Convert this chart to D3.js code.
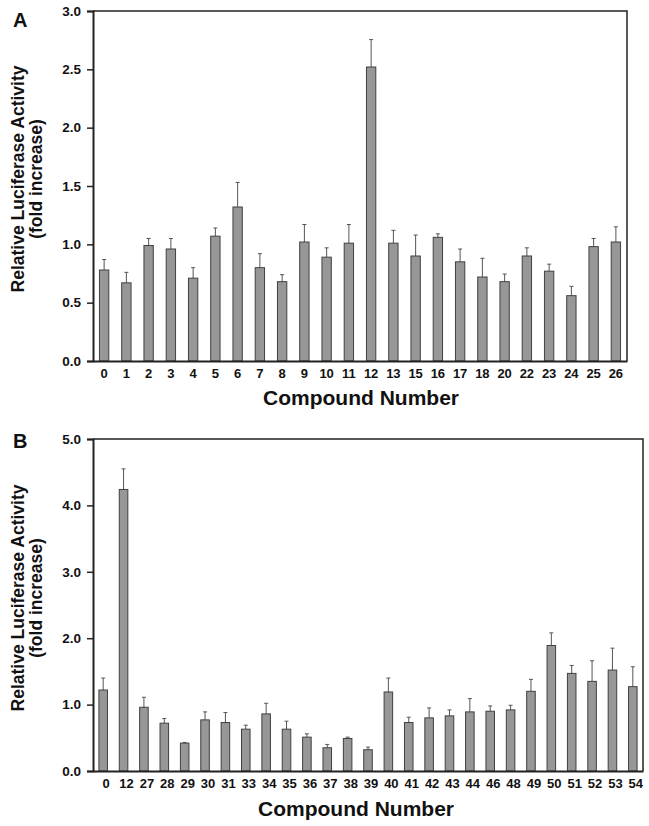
<!DOCTYPE html>
<html><head><meta charset="utf-8">
<script src="https://cdn.jsdelivr.net/npm/d3@7"></script>
<style>body{margin:0;background:#fff}svg{display:block}text{font-family:"Liberation Sans",Arial,sans-serif;font-weight:bold;fill:#111}</style>
</head><body>
<script>
const catsA = ["0","1","2","3","4","5","6","7","8","9","10","11","12","13","15","16","17","18","20","22","23","24","25","26"];
const valsA = [0.78,0.67,0.99,0.96,0.71,1.07,1.32,0.80,0.68,1.02,0.89,1.01,2.52,1.01,0.90,1.06,0.85,0.72,0.68,0.90,0.77,0.56,0.98,1.02];
const errA  = [0.09,0.09,0.06,0.09,0.09,0.07,0.21,0.12,0.06,0.15,0.08,0.16,0.235,0.11,0.18,0.03,0.11,0.16,0.065,0.07,0.06,0.08,0.07,0.13];
const ticksA = [0,0.5,1,1.5,2,2.5,3];

const catsB = ["0","12","27","28","29","30","31","33","34","35","36","37","38","39","40","41","42","43","44","46","48","49","50","51","52","53","54"];
const valsB = [1.22,4.24,0.96,0.72,0.42,0.77,0.73,0.63,0.86,0.63,0.51,0.35,0.49,0.32,1.19,0.73,0.80,0.83,0.89,0.90,0.92,1.20,1.89,1.47,1.35,1.52,1.27];
const errB  = [0.18,0.31,0.15,0.07,0.01,0.12,0.15,0.06,0.16,0.12,0.05,0.05,0.02,0.04,0.21,0.08,0.15,0.09,0.20,0.08,0.07,0.18,0.19,0.12,0.31,0.33,0.30];
const ticksB = [0,1,2,3,4,5];

const yTitle1 = "Relative Luciferase Activity";
const yTitle2 = "(fold increase)";
const xTitle = "Compound Number";

const svg = d3.select("body").append("svg").attr("width",649).attr("height",826);

function panel(o){
  const g = svg.append("g");
  const x = d3.scaleBand().domain(o.cats).range([o.x0,o.x1]).paddingInner(0.58).paddingOuter(0.29);
  const y = d3.scaleLinear().domain([0,o.ymax]).range([o.yb,o.yt]);
  const data = o.cats.map((c,i)=>({c,v:o.vals[i],e:o.errs[i]}));
  // error bars
  const eg = g.append("g").attr("stroke","#555").attr("stroke-width",1);
  eg.selectAll("line.v").data(data).join("line")
    .attr("x1",d=>x(d.c)+x.bandwidth()/2).attr("x2",d=>x(d.c)+x.bandwidth()/2)
    .attr("y1",d=>y(d.v)).attr("y2",d=>y(d.v+d.e));
  eg.selectAll("line.c").data(data).join("line")
    .attr("x1",d=>x(d.c)+x.bandwidth()/2-2).attr("x2",d=>x(d.c)+x.bandwidth()/2+2)
    .attr("y1",d=>y(d.v+d.e)).attr("y2",d=>y(d.v+d.e));
  // bars
  g.append("g").selectAll("rect").data(data).join("rect")
    .attr("x",d=>x(d.c)).attr("width",x.bandwidth())
    .attr("y",d=>y(d.v)).attr("height",d=>y(0)-y(d.v))
    .attr("fill","#979797").attr("stroke","#404040").attr("stroke-width",1);
  // frame top/right
  g.append("path").attr("d",`M${o.x0},${o.yt}H${o.x1}V${o.yb}`).attr("fill","none").attr("stroke","#222").attr("stroke-width",1.5);
  // y axis
  const ya = g.append("g").attr("transform",`translate(${o.x0},0)`)
    .call(d3.axisLeft(y).tickValues(o.ticks).tickFormat(d3.format(".1f")).tickSize(6).tickPadding(6));
  ya.select(".domain").attr("stroke","#222").attr("stroke-width",2);
  ya.selectAll(".tick line").attr("stroke","#222").attr("stroke-width",1.5);
  ya.selectAll(".tick text").attr("font-size",13.5).attr("font-family","Liberation Sans, Arial, sans-serif").attr("font-weight","bold").attr("fill","#111");
  // x axis
  const xa = g.append("g").attr("transform",`translate(0,${o.yb})`)
    .call(d3.axisBottom(x).tickSize(0).tickPadding(0).tickSizeOuter(0));
  xa.select(".domain").attr("stroke","#222").attr("stroke-width",2);
  xa.selectAll(".tick text").attr("font-size",13).attr("font-family","Liberation Sans, Arial, sans-serif").attr("font-weight","bold").attr("fill","#111")
    .attr("dy",null).attr("y",17).attr("dx",o.ldx);
  // titles
  g.append("text").attr("x",13).attr("y",o.lblY).attr("font-size",20).text(o.label);
  const yt = g.append("text").attr("transform",`translate(0,${o.ytc}) rotate(-90)`).attr("text-anchor","middle").attr("font-size",17.5);
  yt.append("tspan").attr("x",0).attr("y",23.5).text(yTitle1);
  yt.append("tspan").attr("x",0).attr("y",41.5).text(yTitle2);
  g.append("text").attr("x",o.xtc).attr("y",o.xtY).attr("text-anchor","middle").attr("font-size",21).text(xTitle);
}

panel({cats:catsA,vals:valsA,errs:errA,ticks:ticksA,ymax:3,x0:93,x1:627,yt:11,yb:361,label:"A",lblY:27,ytc:179,xtc:361,xtY:405,ldx:0});
panel({cats:catsB,vals:valsB,errs:errB,ticks:ticksB,ymax:5,x0:93,x1:643,yt:439,yb:771,label:"B",lblY:448,ytc:598,xtc:356,xtY:816,ldx:3});
</script>
</body></html>
